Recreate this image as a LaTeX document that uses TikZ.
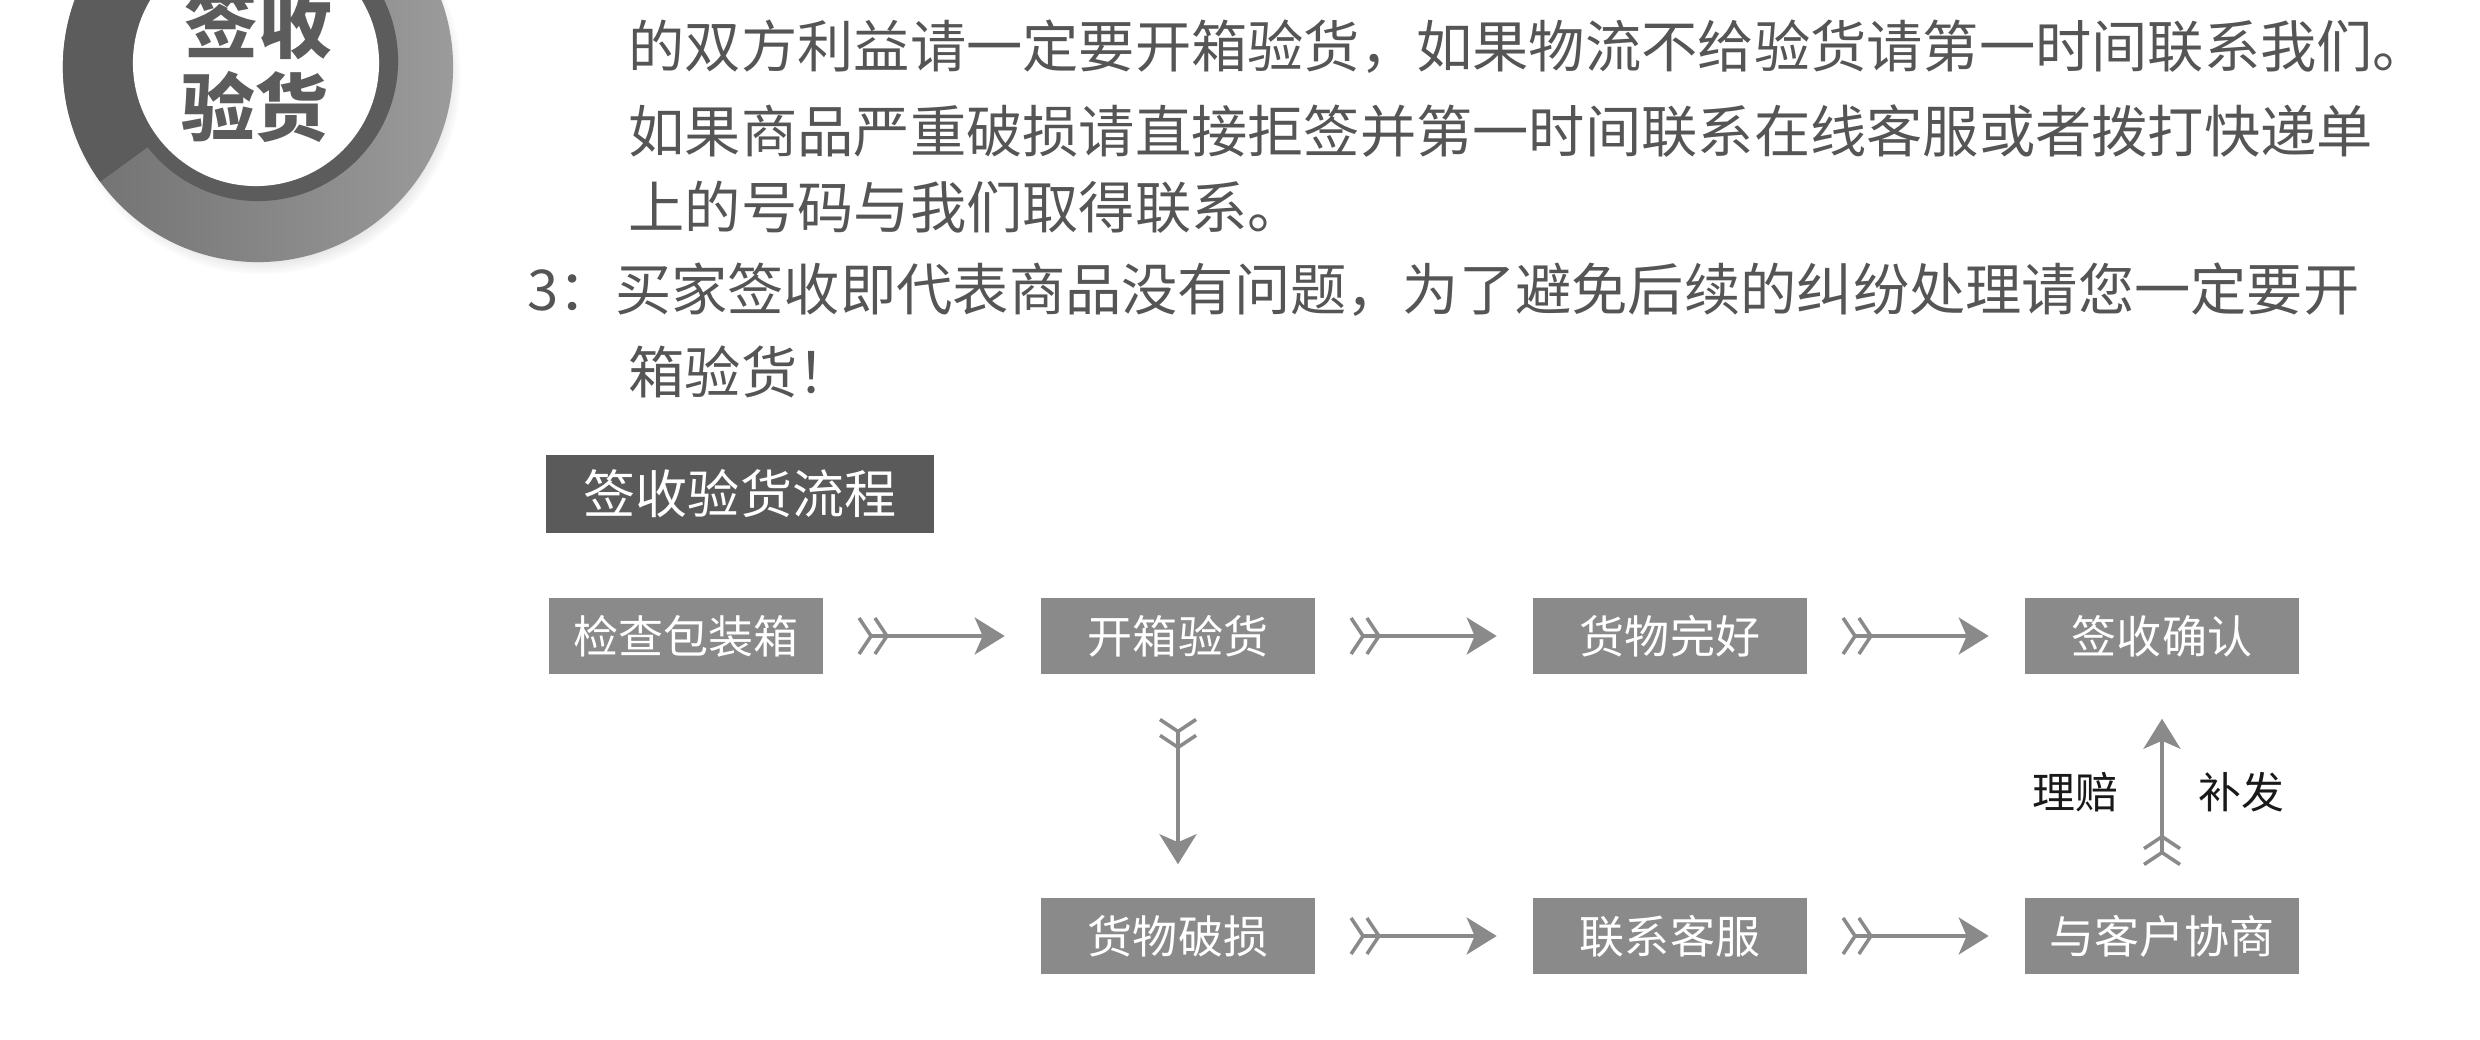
\documentclass[tikz,border=0pt]{standalone}
\usepackage{fontspec}
\setmainfont{Noto Sans CJK SC}
\usetikzlibrary{arrows.meta,shadows}
\definecolor{txtgray}{RGB}{85,85,85}
\definecolor{boxgray}{RGB}{138,138,138}
\definecolor{headgray}{RGB}{90,90,90}
\definecolor{ringdark}{RGB}{92,92,92}
\definecolor{ringmid}{RGB}{112,112,112}
\definecolor{ringlight}{RGB}{155,155,155}

\begin{document}
\begin{tikzpicture}[x=0.01cm,y=-0.01cm,
  stepbox/.style={fill=boxgray,text=white,minimum width=2.73cm,minimum height=0.76cm,inner sep=0pt,font=\fontsize{12.8}{14}\selectfont},
  headbox/.style={fill=headgray,text=white,minimum width=3.87cm,minimum height=0.78cm,inner sep=0pt,font=\fontsize{14.8}{16}\selectfont},
  para/.style={anchor=west,inner sep=0pt,text=txtgray,font=\fontsize{16}{18}\selectfont},
  logotxt/.style={inner sep=0pt,text=ringdark,font=\fontsize{21}{24}\selectfont\bfseries},
  side/.style={inner sep=0pt,text=black!90,font=\fontsize{12.2}{14}\selectfont},
  flow/.style={draw=boxgray,line width=1pt,{Straight Barb[reversed,length=0.12cm,width=0.36cm]Straight Barb[reversed,length=0.12cm,width=0.36cm]}-{Stealth[length=0.3cm,width=0.37cm,inset=0.08cm]}}]
\useasboundingbox (0,0) rectangle (2480,1040);
\fill[white] (0,0) rectangle (2480,1040);
%logo
\begin{scope}[shift={(258,67)},x=1cm,y=1cm]
\path[circular drop shadow={shadow xshift=0.04cm,shadow yshift=-0.08cm,opacity=0.4,shadow scale=1.02},left color=ringmid,right color=ringlight] (0,0) circle (1.95);
\fill[ringdark] (0,0) -- (90:1.95) arc (90:216:1.95) -- cycle;
\fill[ringdark] (0,0.06) circle (1.40);
\fill[white] (-0.02,0.04) circle (1.23);
\node[logotxt] (qs) at (0,0.43) {签收};
\node[logotxt] (yh) at (-0.03,-0.40) {验货};
\end{scope}
%text
\node[para] (l1) at (628,47) {的双方利益请一定要开箱验货，如果物流不给验货请第一时间联系我们。};
\node[para] (l2) at (628,131) {如果商品严重破损请直接拒签并第一时间联系在线客服或者拨打快递单};
\node[para] (l3) at (628,207) {上的号码与我们取得联系。};
\node[para] (l4) at (527,290) {3：买家签收即代表商品没有问题，为了避免后续的纠纷处理请您一定要开};
\node[para] (l5) at (628,372) {箱验货！};
%flow
\node[headbox] (lc) at (740,494) {签收验货流程};
\node[stepbox] (jc) at (686,636) {检查包装箱};
\node[stepbox] (kx) at (1178,636) {开箱验货};
\node[stepbox] (wh) at (1670,636) {货物完好};
\node[stepbox] (qr) at (2162,636) {签收确认};
\node[stepbox] (ps) at (1178,936) {货物破损};
\node[stepbox] (kf) at (1670,936) {联系客服};
\node[stepbox] (xs) at (2162,936) {与客户协商};
\draw[flow] ([xshift=0.34cm]jc.east) -- ([xshift=-0.36cm]kx.west);
\draw[flow] ([xshift=0.34cm]kx.east) -- ([xshift=-0.36cm]wh.west);
\draw[flow] ([xshift=0.34cm]wh.east) -- ([xshift=-0.36cm]qr.west);
\draw[flow] ([yshift=-0.43cm]kx.south) -- ([yshift=0.33cm]ps.north);
\draw[flow] ([xshift=0.34cm]ps.east) -- ([xshift=-0.36cm]kf.west);
\draw[flow] ([xshift=0.34cm]kf.east) -- ([xshift=-0.36cm]xs.west);
\draw[flow] ([yshift=0.31cm]xs.north) -- ([yshift=-0.44cm]qr.south)
  node[midway,side,left=0.42cm] (lp) {理赔}
  node[midway,side,right=0.35cm] (bf) {补发};
\end{tikzpicture}
\end{document}
